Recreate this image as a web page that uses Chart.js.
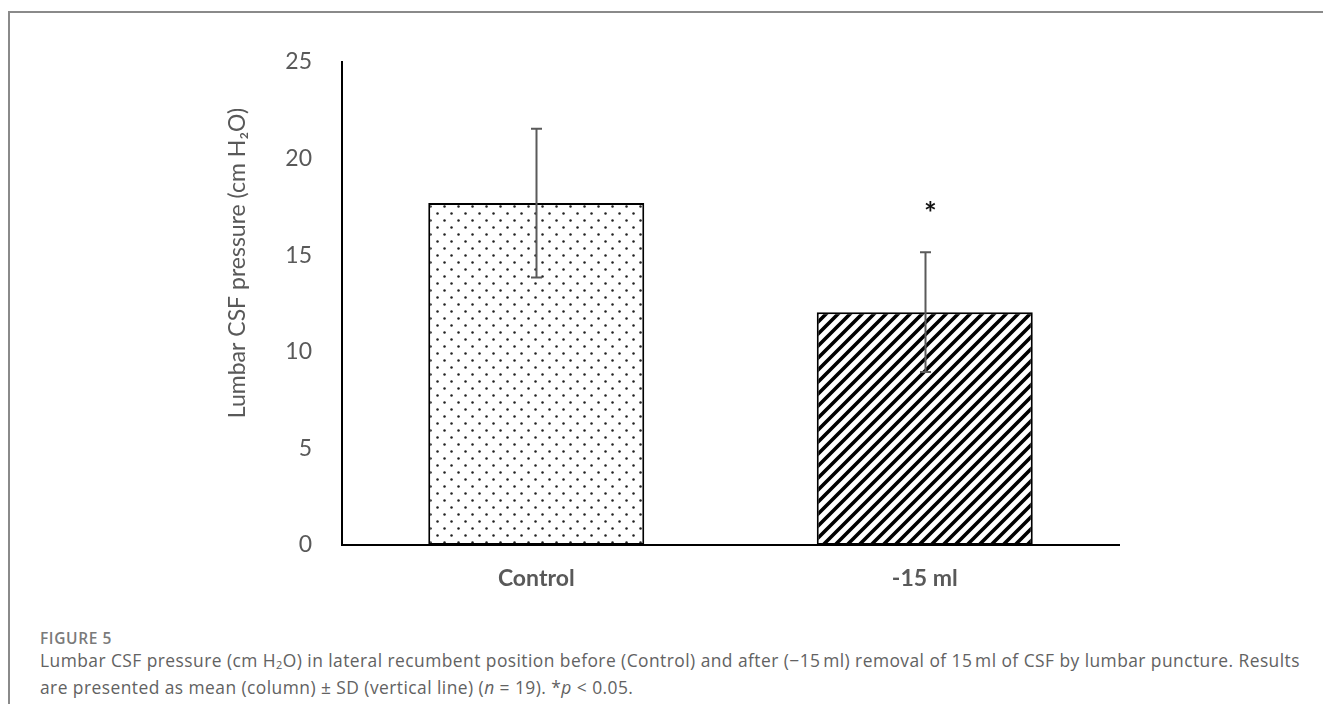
<!DOCTYPE html>
<html>
<head>
<meta charset="utf-8">
<script src="https://cdn.jsdelivr.net/npm/chart.js@4.4.1/dist/chart.umd.min.js"></script>
<style>
    body { margin: 0; background: #fff; width: 1323px; height: 704px; overflow: hidden; position: relative; }
    .frame { position: absolute; left: 8px; top: 11px; width: 1340px; height: 720px; border-top: 2px solid #8a8a8a; border-left: 2px solid #8a8a8a; }
    #grafico { position: absolute; left: 0; top: 0; }
    .legenda { position: absolute; left: 40px; top: 627px; font-family: "Open Sans", sans-serif; color: #626262; }
    .legenda .fig { font-size: 15.5px; font-weight: 600; color: #7a7a7a; letter-spacing: 0.6px; margin-bottom: 0px; }
    .legenda .txt { font-size: 17.4px; line-height: 23px; letter-spacing: 0.45px; }
    .legenda sub { font-size: 11px; vertical-align: -2px; }
</style>
</head>
<body>
<div class="frame"></div>
<canvas id="grafico" width="1323" height="600"></canvas>
<div class="legenda">
    <div class="fig">FIGURE 5</div>
    <div class="txt">Lumbar CSF pressure (cm H<sub>2</sub>O) in lateral recumbent position before (Control) and after (&minus;15&#8239;ml) removal of 15&#8239;ml of CSF by lumbar puncture. Results<br>are presented as mean (column) &plusmn; SD (vertical line) (<i>n</i> = 19). *<i>p</i> &lt; 0.05.</div>
</div>
<script>
    // ---------- DADOS ----------
    const categorias = ["Control", "-15 ml"];
    const medias = [17.7, 12.05];
    const desvios = [3.85, 3.1];
    const significancia = ["", "*"];
    const ticksY = [0, 5, 10, 15, 20, 25];
    const tituloY = "Lumbar CSF pressure (cm H\u2082O)";

    // ---------- PADRÕES ----------
    function padraoPontos() {
        const c = document.createElement("canvas");
        c.width = 14; c.height = 14;
        const g = c.getContext("2d");
        g.fillStyle = "#fff";
        g.fillRect(0, 0, 14, 14);
        g.fillStyle = "#222";
        g.beginPath(); g.arc(3.5, 3.5, 1.25, 0, Math.PI * 2); g.fill();
        g.beginPath(); g.arc(10.5, 10.5, 1.25, 0, Math.PI * 2); g.fill();
        return g.createPattern(c, "repeat");
    }

    function padraoListras() {
        const s = 12;
        const c = document.createElement("canvas");
        c.width = s; c.height = s;
        const g = c.getContext("2d");
        g.fillStyle = "#fff";
        g.fillRect(0, 0, s, s);
        g.strokeStyle = "#000";
        g.lineWidth = 3.6;
        g.beginPath();
        g.moveTo(-2, s + 2); g.lineTo(s + 2, -2);
        g.moveTo(-2, 2); g.lineTo(2, -2);
        g.moveTo(s - 2, s + 2); g.lineTo(s + 2, s - 2);
        g.stroke();
        return g.createPattern(c, "repeat");
    }

    // ---------- PLUGIN: barras de erro, asterisco, título do eixo ----------
    const extras = {
        id: "extras",
        afterDatasetsDraw(chart) {
            const ctx = chart.ctx;
            const y = chart.scales.y;
            const meta = chart.getDatasetMeta(0);
            ctx.save();
            ctx.strokeStyle = "#5a5a5a";
            ctx.lineWidth = 2;
            meta.data.forEach((bar, i) => {
                const topo = y.getPixelForValue(medias[i] + desvios[i]);
                const base = y.getPixelForValue(medias[i] - desvios[i]);
                const x = Math.round(bar.x) + 0.5;
                ctx.beginPath();
                ctx.moveTo(x, topo); ctx.lineTo(x, base);
                ctx.moveTo(x - 5.5, topo); ctx.lineTo(x + 5.5, topo);
                ctx.moveTo(x - 5.5, base); ctx.lineTo(x + 5.5, base);
                ctx.stroke();

                if (significancia[i]) {
                    ctx.fillStyle = "#111";
                    ctx.font = "bold 30px Lato";
                    ctx.textAlign = "center";
                    ctx.textBaseline = "middle";
                    ctx.fillText(significancia[i], x + 5, topo - 38);
                }
            });

            // título do eixo Y
            ctx.translate(238, 263);
            ctx.rotate(-Math.PI / 2);
            ctx.fillStyle = "#595959";
            ctx.font = "23px Lato";
            ctx.textAlign = "center";
            ctx.textBaseline = "middle";
            ctx.fillText(tituloY, 0, 0);
            ctx.restore();
        }
    };

    // ---------- GRÁFICO ----------
    new Chart(document.getElementById("grafico"), {
        type: "bar",
        data: {
            labels: categorias,
            datasets: [{
                data: medias,
                backgroundColor: [padraoPontos(), padraoListras()],
                borderColor: "#000",
                borderWidth: 2,
                borderSkipped: false,
                categoryPercentage: 1,
                barPercentage: 0.556
            }]
        },
        options: {
            responsive: false,
            devicePixelRatio: 1,
            animation: false,
            layout: { padding: { left: 0, top: 62, right: 204, bottom: 0 } },
            plugins: { legend: { display: false }, tooltip: { enabled: false } },
            scales: {
                y: {
                    min: 0,
                    max: 25,
                    afterBuildTicks: (s) => { s.ticks = ticksY.map(v => ({ value: v })); },
                    afterFit: (s) => { s.width = 342; },
                    grid: { display: false, drawTicks: false },
                    border: { display: true, color: "#000", width: 2 },
                    ticks: { padding: 30, color: "#595959", font: { family: "Lato", size: 23 } }
                },
                x: {
                    afterFit: (s) => { s.height = 55; },
                    grid: { display: false, drawTicks: false },
                    border: { display: true, color: "#000", width: 2 },
                    ticks: { padding: 20, color: "#595959", font: { family: "Lato", size: 23, weight: "bold" } }
                }
            }
        },
        plugins: [extras]
    });
</script>
</body>
</html>
